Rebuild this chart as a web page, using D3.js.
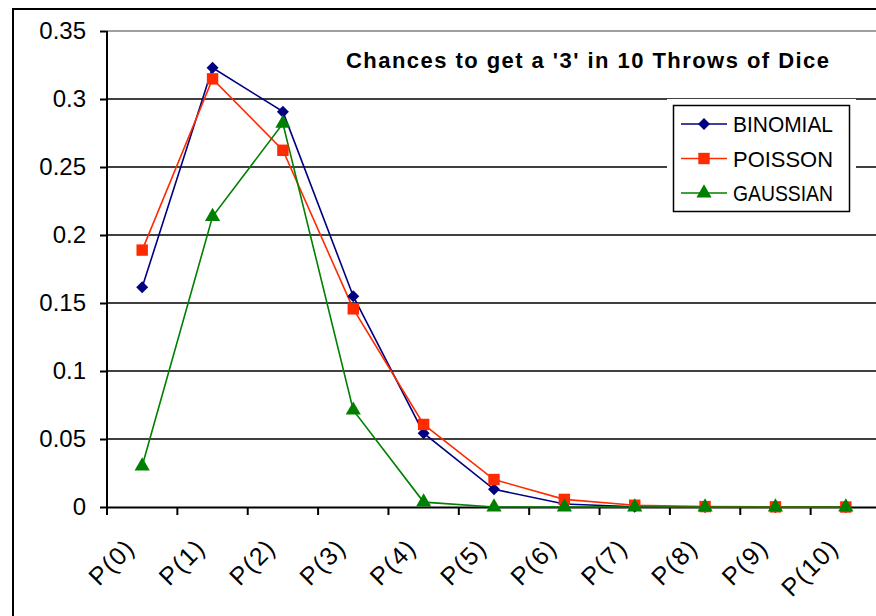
<!DOCTYPE html>
<html>
<head>
<meta charset="utf-8">
<script src="https://cdn.jsdelivr.net/npm/d3@7"></script>
<style>
  body { margin: 0; background: #fff; }
  svg { display: block; font-family: "Liberation Sans", Arial, sans-serif; }
</style>
</head>
<body>
<div id="chart"></div>
<script>
const categories = ["P(0)", "P(1)", "P(2)", "P(3)", "P(4)", "P(5)", "P(6)", "P(7)", "P(8)", "P(9)", "P(10)"];
const binomial = [0.1615, 0.3230, 0.2907, 0.1550, 0.0543, 0.0130, 0.0022, 0.0002, 0.0000, 0.0000, 0.0000];
const poisson  = [0.1889, 0.3148, 0.2623, 0.1457, 0.0607, 0.0202, 0.0056, 0.0013, 0.0003, 0.0001, 0.0000];
const gaussian = [0.0301, 0.2135, 0.2820, 0.0712, 0.0036, 0.0000, 0.0000, 0.0000, 0.0000, 0.0000, 0.0000];
const yTicks = [0, 0.05, 0.1, 0.15, 0.2, 0.25, 0.3, 0.35];
const seriesNames = ["BINOMIAL", "POISSON", "GAUSSIAN"];
const title = "Chances to get a '3'  in 10 Throws of Dice";

const W = 876, H = 616;
const plotL = 107, plotT = 31, plotB = 507, plotR = 881;

const svg = d3.select("#chart").append("svg")
  .attr("width", W).attr("height", H);

// outer chart border
svg.append("rect")
  .attr("x", 13).attr("y", 9).attr("width", 900).attr("height", 700)
  .attr("fill", "#fff").attr("stroke", "#000").attr("stroke-width", 2);

const x = d3.scaleBand().domain(categories).range([plotL, plotR]);
const y = d3.scaleLinear().domain([0, 0.35]).range([plotB, plotT]);

// gridlines
svg.append("g").selectAll("line")
  .data(yTicks.filter(d => d > 0))
  .enter().append("line")
  .attr("x1", plotL).attr("x2", plotR)
  .attr("y1", d => y(d)).attr("y2", d => y(d))
  .attr("stroke", d => d === 0.35 ? "#808080" : "#000")
  .attr("stroke-width", 1.5);

// y axis
const yAxis = svg.append("g")
  .attr("transform", `translate(${plotL},0)`)
  .call(d3.axisLeft(y).tickValues(yTicks).tickSize(7).tickPadding(14).tickFormat(d => String(+d.toFixed(2))));
yAxis.select(".domain").attr("stroke-width", 2).attr("d", `M0,${plotT}V${plotB}`);
yAxis.selectAll(".tick line").attr("stroke-width", 2);
yAxis.selectAll(".tick text")
  .attr("font-family", "Liberation Sans, Arial, sans-serif")
  .attr("font-size", 24).attr("fill", "#000");

// x axis
const xAxis = svg.append("g")
  .attr("transform", `translate(0,${plotB})`)
  .call(d3.axisBottom(x).tickSize(0).tickFormat(""));
xAxis.select(".domain").attr("stroke-width", 2);
xAxis.selectAll(".tick").remove();

const tickPos = d3.range(categories.length + 1).map(i => plotL + i * x.step());
xAxis.selectAll("line.tk")
  .data(tickPos)
  .enter().append("line")
  .attr("class", "tk")
  .attr("x1", d => d).attr("x2", d => d)
  .attr("y1", 0).attr("y2", 8)
  .attr("stroke", "#000").attr("stroke-width", 2);

svg.append("g").selectAll("text")
  .data(categories)
  .enter().append("text")
  .attr("transform", d => `translate(${x(d) + x.bandwidth() / 2 - 18},${plotB + 30}) rotate(-45)`)
  .attr("text-anchor", "end")
  .attr("dy", "0.7em")
  .attr("font-size", 25)
  .attr("letter-spacing", 1.5)
  .text(d => d);

// series
const diamond = { draw(ctx, size) { const r = Math.sqrt(size) / 2 * Math.SQRT2; ctx.moveTo(0, -r); ctx.lineTo(r, 0); ctx.lineTo(0, r); ctx.lineTo(-r, 0); ctx.closePath(); } };
const series = [
  { name: seriesNames[0], values: binomial, color: "#000080", shape: diamond, size: 72 },
  { name: seriesNames[1], values: poisson, color: "#ff2a00", shape: d3.symbolSquare, size: 130 },
  { name: seriesNames[2], values: gaussian, color: "#008000", shape: d3.symbolTriangle, size: 100 }
];

const cx = d => x(d) + x.bandwidth() / 2;
const line = d3.line().x((v, i) => cx(categories[i])).y(v => y(v));

series.forEach(s => {
  svg.append("path")
    .datum(s.values)
    .attr("d", line)
    .attr("fill", "none")
    .attr("stroke", s.color)
    .attr("stroke-width", 1.6);
});
series.forEach(s => {
  svg.append("g").selectAll("path")
    .data(s.values)
    .enter().append("path")
    .attr("transform", (v, i) => `translate(${cx(categories[i])},${y(v)})`)
    .attr("d", d3.symbol().type(s.shape).size(s.size))
    .attr("fill", s.color);
});

// title
svg.append("text")
  .attr("x", 346).attr("y", 68)
  .attr("font-size", 22)
  .attr("font-weight", "bold")
  .attr("textLength", 483)
  .attr("lengthAdjust", "spacing")
  .text(title);

// legend
const lg = svg.append("g");
lg.append("rect")
  .attr("x", 667).attr("y", 99).attr("width", 189).attr("height", 118)
  .attr("fill", "#fff");
lg.append("rect")
  .attr("x", 673.5).attr("y", 105.5).attr("width", 176).attr("height", 106)
  .attr("fill", "#fff").attr("stroke", "#000").attr("stroke-width", 1.5);
series.forEach((s, i) => {
  const ly = 124 + i * 34.5;
  lg.append("line")
    .attr("x1", 681).attr("x2", 727).attr("y1", ly).attr("y2", ly)
    .attr("stroke", s.color).attr("stroke-width", 1.6);
  lg.append("path")
    .attr("transform", `translate(704,${ly})`)
    .attr("d", d3.symbol().type(s.shape).size(s.size))
    .attr("fill", s.color);
  lg.append("text")
    .attr("x", 733).attr("y", ly + 8)
    .attr("font-size", 22)
    .attr("textLength", 100)
    .attr("lengthAdjust", "spacingAndGlyphs")
    .text(s.name);
});
</script>
</body>
</html>
